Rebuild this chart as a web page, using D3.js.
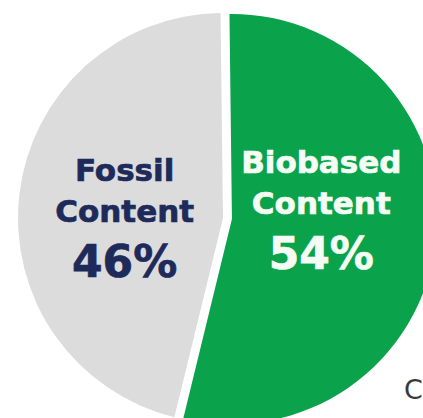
<!DOCTYPE html>
<html>
<head>
<meta charset="utf-8">
<script src="https://cdn.jsdelivr.net/npm/d3@7"></script>
<style>
  html, body { margin: 0; padding: 0; background: #ffffff; }
  svg { display: block; }
</style>
</head>
<body>
<svg id="chart" width="423" height="418"></svg>
<script>
// Share of biobased vs fossil content (percent)
const categories = ["Biobased", "Fossil"];
const shares = [54, 46];
const labelHeads = ["Biobased", "Fossil"];
const labelSubs = ["Content", "Content"];
const sliceColors = ["#0aa34b", "#dcdcdc"];
const textColors = ["#f4fcf4", "#1d2a5a"];

const W = 423, H = 418;
const cx = 223, cy = 218, radius = 205;
const explode = 9;

const svg = d3.select("#chart");
const g = svg.append("g").attr("transform", `translate(${cx},${cy})`);

const pie = d3.pie()
  .sort(null)
  .startAngle(-0.012)
  .endAngle(2 * Math.PI - 0.012)
  .value(d => d);

const arcs = pie(shares);
const arc = d3.arc().innerRadius(0).outerRadius(radius);

// Biobased slice is pulled slightly out along its bisector
function offset(d, i) {
  if (i !== 0) return [0, 0];
  const a = (d.startAngle + d.endAngle) / 2;
  return [Math.sin(a) * explode, -Math.cos(a) * explode];
}

g.selectAll("path.slice")
  .data(arcs)
  .join("path")
  .attr("class", "slice")
  .attr("d", arc)
  .attr("fill", (d, i) => sliceColors[i])
  .attr("transform", (d, i) => {
    const [dx, dy] = offset(d, i);
    return `translate(${dx},${dy})`;
  });

// Labels: three centred lines inside each slice
const labelArc = d3.arc().innerRadius(99).outerRadius(99);
const labelShift = [[-9, -4], [0, 4]]; // per-slice nudge of the label block
const lineSpecs = [
  { key: "head", dy: -41, size: 31 },
  { key: "sub", dy: 0, size: 31 },
  { key: "pct", dy: 55, size: 44 }
];

arcs.forEach((d, i) => {
  const [ox] = labelArc.centroid(d);
  const [dx] = offset(d, i);
  const x = ox + dx + labelShift[i][0];
  const texts = {
    head: labelHeads[i],
    sub: labelSubs[i],
    pct: `${shares[i]}%`
  };
  lineSpecs.forEach(s => {
    g.append("text")
      .attr("x", x)
      .attr("y", s.dy + labelShift[i][1])
      .attr("text-anchor", "middle")
      .attr("font-family", "'DejaVu Sans', Verdana, sans-serif")
      .attr("font-weight", "bold")
      .attr("font-size", s.size)
      .attr("fill", textColors[i])
      .attr("stroke", textColors[i])
      .attr("stroke-width", 0.7)
      .text(texts[s.key]);
  });
});

// Start of a caption near the lower right corner
svg.append("text")
  .attr("x", 404)
  .attr("y", 399)
  .attr("font-family", "'DejaVu Sans', Verdana, sans-serif")
  .attr("font-size", 27)
  .attr("fill", "#3a3a3a")
  .text("C");
</script>
</body>
</html>
